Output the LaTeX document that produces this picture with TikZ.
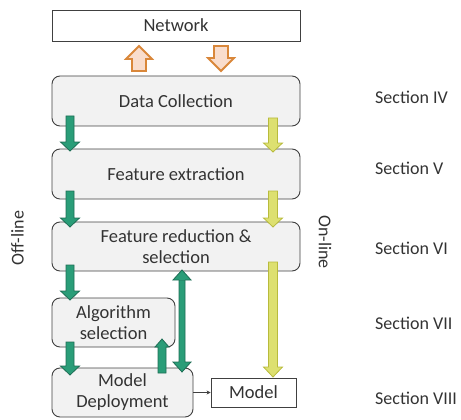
\documentclass[tikz,border=0pt]{standalone}
\usepackage{fontspec}
\setmainfont{Carlito}
\usetikzlibrary{arrows.meta}
\definecolor{boxfill}{HTML}{F2F2F2}
\definecolor{boxdraw}{HTML}{404040}
\definecolor{txt}{HTML}{333333}
\definecolor{gfill}{HTML}{2A9D78}
\definecolor{gdraw}{HTML}{1E6E55}
\definecolor{yfill}{HTML}{DDE070}
\definecolor{ydraw}{HTML}{B8BB3C}
\definecolor{ofill}{HTML}{F9DDCD}
\definecolor{odraw}{HTML}{D9873A}
\newcommand\darr[7]{\draw[#1] ({#2-#5},#3) -- ({#2+#5},#3) -- ({#2+#5},{#4-#7}) -- ({#2+#6},{#4-#7}) -- (#2,#4) -- ({#2-#6},{#4-#7}) -- ({#2-#5},{#4-#7}) -- cycle;}
\newcommand\uarr[7]{\draw[#1] ({#2-#5},#3) -- ({#2+#5},#3) -- ({#2+#5},{#4+#7}) -- ({#2+#6},{#4+#7}) -- (#2,#4) -- ({#2-#6},{#4+#7}) -- ({#2-#5},{#4+#7}) -- cycle;}
\tikzset{
  box/.style={draw=boxdraw, line width=0.9pt, fill=boxfill, rounded corners=8pt, inner sep=0pt, text=txt, align=center, font=\fontsize{18.5}{20}\selectfont},
  plainbox/.style={draw=boxdraw, line width=0.8pt, fill=white, inner sep=0pt, text=txt, font=\fontsize{18.5}{20}\selectfont},
  lbl/.style={text=txt, font=\fontsize{18}{20}\selectfont, inner sep=0pt},
  garr/.style={fill=gfill, draw=gdraw, line width=0.8pt, line join=miter},
  yarr/.style={fill=yfill, draw=ydraw, line width=0.8pt},
  oarr/.style={fill=ofill, draw=odraw, line width=1.8pt}
}
\begin{document}
\begin{tikzpicture}[x=1pt,y=-1pt]
\useasboundingbox (0,0) rectangle (461,420);
\node[plainbox, minimum width=248pt, minimum height=31pt] (net) at (176,25.5) {Network};
\node[box, minimum width=248pt, minimum height=50pt] (dc) at (176,101) {Data Collection};
\node[box, minimum width=248pt, minimum height=50pt] (fe) at (176,174) {Feature extraction};
\node[box, minimum width=248pt, minimum height=49pt] (fr) at (176,246.5) {Feature reduction \&\\[1pt] selection};
\node[box, minimum width=123pt, minimum height=49pt] (alg) at (113.5,322.5) {Algorithm\\[1pt] selection};
\node[box, minimum width=141pt, minimum height=49pt] (md) at (122.5,392.5) {Model\\[1pt] Deployment};
\node[plainbox, minimum width=85pt, minimum height=29pt] (model) at (253.5,392.5) {Model};
\draw[-{Stealth[length=4pt,width=4pt]}, line width=0.6pt, draw=boxdraw] (md.east |- model.west) -- (model.west);
% orange
\uarr{oarr}{139}{71}{46}{7}{13}{13}
\darr{oarr}{221}{46}{71}{7}{13}{13}
% green
\darr{garr}{70}{116}{151}{4}{9.5}{9}
\darr{garr}{70}{191}{227}{4}{9.5}{9}
\darr{garr}{70}{265}{300}{4}{9.5}{9}
\darr{garr}{70}{342}{375}{4}{9.5}{9}
\uarr{garr}{162}{373}{339}{4}{7}{8}
\draw[garr] (179,280) -- (185,280) -- (185,362) -- (191,362) -- (182,372) -- (173,362) -- (179,362) -- cycle;
\draw[garr] (179,280) -- (173,280) -- (182,270) -- (191,280) -- (185,280);
% yellow
\darr{yarr}{273}{118}{152}{4.5}{9.5}{9}
\darr{yarr}{273}{191}{227}{4.5}{9.5}{9}
\darr{yarr}{273}{262}{377}{4.5}{9.5}{10}
% labels
\node[lbl, rotate=90] (off) at (17.5,238) {Off-line};
\node[lbl, rotate=-90] (on) at (325,242) {On-line};
\node[lbl, anchor=west] (s4) at (375,97) {Section IV};
\node[lbl, anchor=west] (s5) at (375,168) {Section V};
\node[lbl, anchor=west] (s6) at (375,248) {Section VI};
\node[lbl, anchor=west] (s7) at (375,323) {Section VII};
\node[lbl, anchor=west] (s8) at (375,398) {Section VIII};
\end{tikzpicture}
\end{document}
